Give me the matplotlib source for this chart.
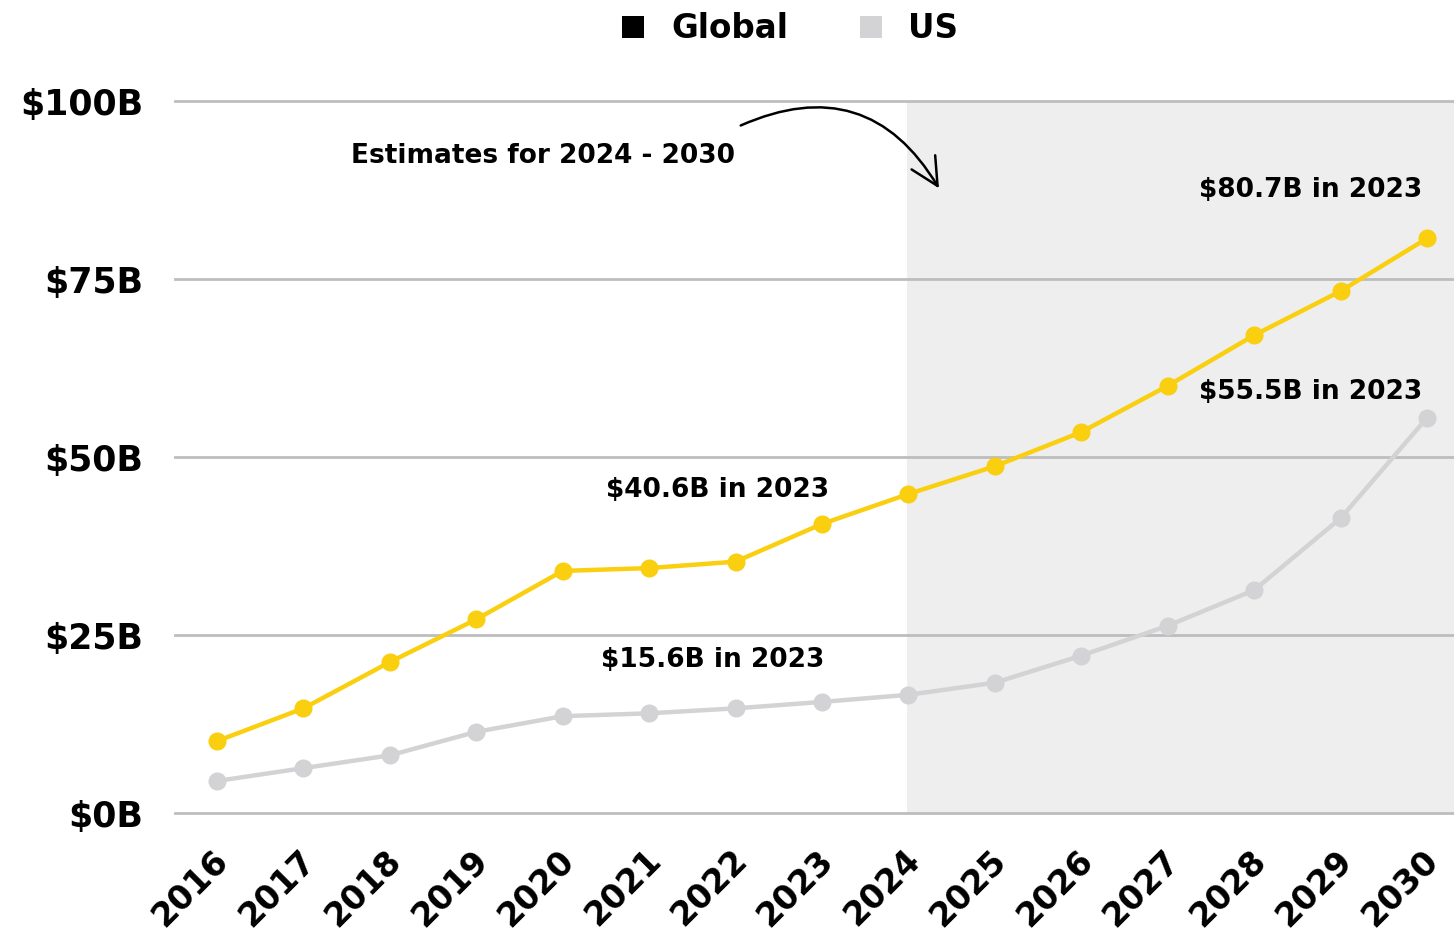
import matplotlib
matplotlib.use("Agg")
import matplotlib.pyplot as plt
from matplotlib.patches import Rectangle
from matplotlib.transforms import ScaledTranslation

years = list(range(2016, 2031))
global_vals = [10.1, 14.7, 21.2, 27.2, 34.0, 34.4, 35.3, 40.6, 44.8, 48.7, 53.5, 60.0, 67.1, 73.3, 80.7]
us_vals = [4.5, 6.3, 8.1, 11.4, 13.6, 14.0, 14.7, 15.6, 16.6, 18.3, 22.1, 26.3, 31.3, 41.4, 55.5]
y_ticks = [0, 25, 50, 75, 100]
y_labels = ["$0B", "$25B", "$50B", "$75B", "$100B"]
series_names = ["Global", "US"]
estimate_start = 2024

YELLOW = "#F9CF0F"
GRAY = "#D3D3D5"
SHADE = "#EEEEEE"
GRID = "#BDBDBD"
FONT = ["DejaVu Sans"]

plt.rcParams["font.family"] = FONT

W, H = 1454, 935
fig = plt.figure(figsize=(W / 100, H / 100), dpi=100)
ax = fig.add_axes([175 / W, 1 - 813 / H, 1 - 175 / W, 712 / H])

x_left = 2016 - 42 / 86.43
x_right = 2030 + 27 / 86.43
ax.set_xlim(x_left, x_right)
ax.set_ylim(0, 100)

# forecast region
ax.axvspan(estimate_start - 0.02, x_right, color=SHADE, zorder=0, lw=0)

for t in y_ticks:
    ax.axhline(t, color=GRID, lw=2, zorder=1, clip_on=False)

ax.plot(years, us_vals, color=GRAY, lw=3.2, marker="o", ms=12, zorder=3)
ax.plot(years, global_vals, color=YELLOW, lw=3.2, marker="o", ms=12, zorder=4)

for s in ax.spines.values():
    s.set_visible(False)

ax.set_yticks(y_ticks)
ax.set_yticklabels(y_labels, fontsize=25, fontweight="bold")
ax.tick_params(axis="y", length=0, pad=23)
ax.set_xticks(years)
ax.set_xticklabels([str(y) for y in years], rotation=45, ha="right", va="top",
                   rotation_mode="anchor", fontsize=24, fontweight="bold")
ax.tick_params(axis="x", length=0, pad=22)
shift = ScaledTranslation(-0.05, 0, fig.dpi_scale_trans)
for lbl in ax.get_xticklabels():
    lbl.set_transform(lbl.get_transform() + shift)

lab_kw = dict(fontsize=19, fontweight="bold", color="black", zorder=6)
ax.text(2021.79, 45.4, "$40.6B in 2023", ha="center", va="center", **lab_kw)
ax.text(2021.73, 21.5, "$15.6B in 2023", ha="center", va="center", **lab_kw)
ax.text(2029.95, 87.5, "$80.7B in 2023", ha="right", va="center", **lab_kw)
ax.text(2029.95, 59.1, "$55.5B in 2023", ha="right", va="center", **lab_kw)

ax.text(2021.99, 92.3, "Estimates for 2024 - 2030", ha="right", va="center", **lab_kw)
ax.annotate("", xy=(2024.37, 87.4), xytext=(2022.03, 96.4),
            arrowprops=dict(arrowstyle="->,head_length=0.9,head_width=0.45",
                            mutation_scale=22,
                            connectionstyle="arc3,rad=-0.45", color="black", lw=1.8),
            zorder=6)

# legend drawn as squares and labels across the top
legend_items = [(622, "black", 671), (860, GRAY, 908)]
for (sq_x, col, tx), name in zip(legend_items, series_names):
    fig.add_artist(Rectangle((sq_x / W, 1 - 38 / H), 22 / W, 22 / H,
                             transform=fig.transFigure, color=col, lw=0))
    fig.text(tx / W, 1 - 28 / H, name, ha="left", va="center",
             fontsize=23.5, fontweight="bold", color="black")

fig.savefig("out.png", dpi=100)
